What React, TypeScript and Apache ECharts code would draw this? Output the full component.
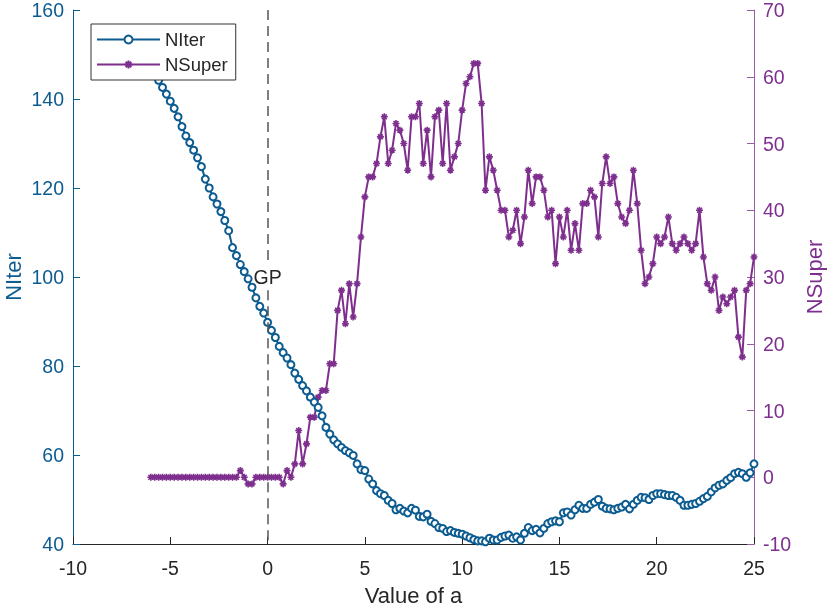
import React, { useEffect, useRef } from 'react';
import * as echarts from 'echarts';

// x grid of both series: from -6 to 25 in steps of 0.2
const X_START = -6;
const X_STEP = 0.2;

// NIter (left axis), one value per x step
const nIter = [
  147.5, 145.8, 144.2, 142.6, 141.1,
  139.5, 137.9, 136.0, 133.8, 131.7,
  130.2, 128.5, 126.8, 124.8, 122.0,
  120.0, 118.0, 116.4, 114.7, 112.7,
  110.4, 106.6, 104.8, 102.8, 101.2,
  99.6, 97.7, 95.3, 93.4, 91.9,
  89.8, 88.0, 86.4, 84.4, 83.0,
  81.8, 80.3, 78.4, 77.0, 75.6,
  74.4, 73.0, 71.9, 70.7, 68.8,
  66.2, 64.7, 63.4, 62.5, 61.7,
  61.0, 60.5, 59.9, 58.0, 56.7,
  56.5, 54.6, 53.5, 52.0, 51.3,
  50.9, 49.8, 49.1, 47.7, 48.0,
  47.4, 47.0, 48.0, 47.6, 46.2,
  46.1, 46.7, 45.1, 44.6, 43.7,
  43.5, 42.8, 43.0, 42.6, 42.4,
  42.2, 41.8, 41.4, 41.0, 40.7,
  40.7, 40.5, 41.3, 40.9, 40.9,
  41.5, 41.8, 42.0, 41.3, 41.6,
  40.9, 42.4, 43.7, 43.0, 43.3,
  42.5, 43.5, 44.6, 45.0, 45.2,
  45.0, 47.0, 47.2, 46.5, 47.7,
  48.7, 48.0, 48.0, 48.9, 49.4,
  50.0, 48.5, 48.0, 47.9, 47.7,
  48.0, 48.3, 48.9, 47.9, 48.9,
  49.8, 50.5, 50.4, 50.0, 50.9,
  51.3, 51.3, 51.1, 50.9, 50.9,
  50.5, 49.8, 48.7, 48.7, 48.9,
  49.1, 49.6, 50.2, 50.7, 51.7,
  52.6, 53.2, 53.5, 54.3, 54.9,
  55.8, 56.1, 55.8, 55.0, 56.0,
  58.0,
];

// NSuper (right axis), one value per x step
const nSuper = [
  0, 0, 0, 0, 0, 0, 0, 0, 0, 0, 0, 0, 0, 0, 0, 0, 0, 0, 0, 0, 0, 0, 0,
  1, 0, -1, -1, 0, 0, 0, 0,
  0, 0, 0, -1, 1,
  0, 2, 7, 2, 5,
  9, 9, 12, 13, 13,
  17, 17, 25, 28, 23,
  29, 24, 29, 36, 42,
  45, 45, 47, 51, 54,
  47, 49, 53, 52, 50,
  46, 54, 54, 56, 47,
  52, 45, 54, 55, 47,
  56, 46, 48, 50, 55,
  59, 60, 62, 62, 56,
  43, 48, 46, 43, 40,
  40, 36, 37, 40, 35,
  39, 46, 41, 45, 45,
  43, 39, 40, 32, 39,
  36, 40, 34, 38, 34,
  41, 41, 43, 42, 36,
  44, 48, 44, 45, 41,
  39, 38, 40, 46, 41,
  34, 29, 30, 32, 36,
  35, 36, 39, 35, 34,
  35, 36, 35, 34, 35,
  40, 33, 29, 28, 30,
  25, 27, 26, 27, 28,
  21, 18, 28, 29, 33,
];

const X_RANGE = { min: -10, max: 25, interval: 5 };
const LEFT_RANGE = { min: 40, max: 160, interval: 20 };
const RIGHT_RANGE = { min: -10, max: 70, interval: 10 };
const GP_X = 0;
const GP_LABEL_Y = 100;

const FONT = 'Liberation Sans, Arial, Helvetica, sans-serif';
const BLUE = '#0d5c91';
const PURPLE = '#7e2f8e';
const DARK = '#262626';

export default function App() {
  const ref = useRef<HTMLDivElement>(null);
  useEffect(() => {
    const chart = echarts.init(ref.current!, null, { renderer: 'svg' });
    const xs = nIter.map((_, i) => +(X_START + i * X_STEP).toFixed(1));
    const iterData = nIter.map((v, i) => [xs[i], v]);
    const superData = nSuper.map((v, i) => [xs[i], v]);

    chart.setOption({
      animation: false,
      textStyle: { fontFamily: FONT },
      grid: {
        left: 73,
        right: 76,
        top: 10,
        bottom: 63,
        containLabel: false,
        outerBoundsMode: 'none',
      },
      legend: {
        data: ['NIter', 'NSuper'],
        orient: 'vertical',
        left: 91,
        top: 24,
        padding: [6, 8, 6, 5],
        itemGap: 6,
        itemWidth: 63,
        itemHeight: 10,
        backgroundColor: '#fff',
        borderColor: '#333',
        borderWidth: 1,
        borderRadius: 0,
        textStyle: { fontSize: 18.5, color: DARK, fontFamily: FONT },
      },
      xAxis: {
        type: 'value',
        ...X_RANGE,
        name: 'Value of a',
        nameLocation: 'middle',
        nameGap: 41,
        nameMoveOverlap: false,
        nameTextStyle: { fontSize: 22, lineHeight: 20, color: DARK, fontFamily: FONT },
        axisLine: { onZero: false, lineStyle: { color: DARK, width: 1 } },
        axisTick: { inside: true, length: 7, lineStyle: { color: DARK } },
        axisLabel: { fontSize: 19.5, color: DARK, margin: 14, fontFamily: FONT },
        splitLine: { show: false },
      },
      yAxis: [
        {
          type: 'value',
          position: 'left',
          ...LEFT_RANGE,
          name: 'NIter',
          nameLocation: 'middle',
          nameGap: 50,
          nameMoveOverlap: false,
          nameTextStyle: { fontSize: 22, lineHeight: 20, color: BLUE, fontFamily: FONT },
          axisLine: { show: true, onZero: false, lineStyle: { color: BLUE, width: 1 } },
          axisTick: { show: true, inside: true, length: 7, lineStyle: { color: BLUE } },
          axisLabel: {
            fontSize: 19.5,
            lineHeight: 14,
            color: BLUE,
            margin: 9,
            fontFamily: FONT,
          },
          splitLine: { show: false },
        },
        {
          type: 'value',
          position: 'right',
          ...RIGHT_RANGE,
          name: 'NSuper',
          nameLocation: 'middle',
          nameGap: 50,
          nameMoveOverlap: false,
          nameTextStyle: { fontSize: 22, lineHeight: 20, color: PURPLE, fontFamily: FONT },
          axisLine: { show: true, onZero: false, lineStyle: { color: '#9b5aa8', width: 1 } },
          axisTick: { show: true, inside: true, length: 7, lineStyle: { color: '#9b5aa8' } },
          axisLabel: {
            fontSize: 19.5,
            lineHeight: 14,
            color: PURPLE,
            margin: 9,
            fontFamily: FONT,
          },
          splitLine: { show: false },
        },
      ],
      series: [
        {
          name: 'NSuper',
          type: 'line',
          yAxisIndex: 1,
          z: 2,
          data: superData,
          symbol: 'path://M5,0L5,10M0,5L10,5M1.5,1.5L8.5,8.5M8.5,1.5L1.5,8.5',
          symbolSize: 7,
          lineStyle: { color: PURPLE, width: 2 },
          itemStyle: { color: PURPLE, borderColor: PURPLE, borderWidth: 1.6 },
        },
        {
          name: 'NIter',
          type: 'line',
          yAxisIndex: 0,
          z: 3,
          data: iterData,
          symbol: 'emptyCircle',
          symbolSize: 7,
          lineStyle: { color: BLUE, width: 2 },
          itemStyle: { color: BLUE, borderColor: BLUE, borderWidth: 2.4 },
          markLine: {
            silent: true,
            symbol: 'none',
            lineStyle: { color: '#555', width: 1.5, type: [10, 6] },
            label: { show: false },
            emphasis: { disabled: true },
            data: [
              [{ coord: [GP_X, LEFT_RANGE.max] }, { coord: [GP_X, GP_LABEL_Y + 3] }],
              [{ coord: [GP_X, GP_LABEL_Y - 3] }, { coord: [GP_X, LEFT_RANGE.min] }],
            ],
          },
          markPoint: {
            silent: true,
            symbol: 'rect',
            symbolSize: 1,
            itemStyle: { color: 'rgba(0,0,0,0)' },
            label: {
              show: true,
              position: 'inside',
              formatter: 'GP',
              fontSize: 19.5,
              color: DARK,
              fontFamily: FONT,
            },
            data: [{ coord: [GP_X, GP_LABEL_Y] }],
          },
        },
      ],
    });
    return () => chart.dispose();
  }, []);
  return (
    <div
      ref={ref}
      style={{ position: 'fixed', left: 0, top: 0, width: 830, height: 607 }}
    />
  );
}
